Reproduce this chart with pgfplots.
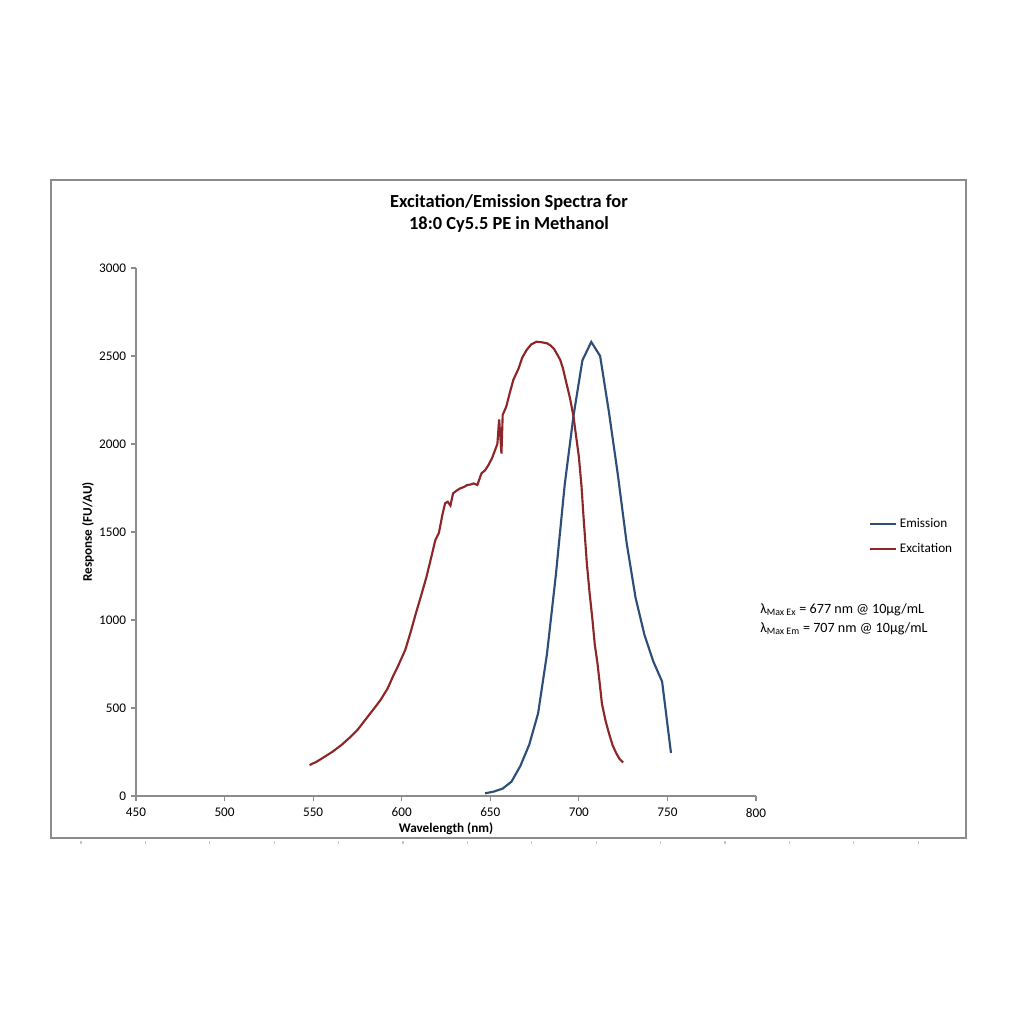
\documentclass[border=0pt]{standalone}
\usepackage{pgfplots}
\pgfplotsset{compat=1.18}
\usepackage{fontspec}
\setmainfont{Carlito}
\definecolor{emblue}{RGB}{44,78,120}
\definecolor{exred}{RGB}{140,38,40}
\definecolor{axgray}{RGB}{140,140,140}
\begin{document}
\begin{tikzpicture}
\path[use as bounding box, fill=white] (0,0) rectangle (768pt,768pt);
\draw[axgray, line width=1.3pt] (38.25pt,139.5pt) rectangle (724.5pt,633pt);
\foreach \i in {0,...,13} {\draw[gray!45, line width=0.8pt] ({(81+64.4*\i)*0.75pt},137.3pt) -- ({(81+64.4*\i)*0.75pt},135.3pt);}
\node[font=\fontsize{13.8}{16.3}\selectfont\bfseries, align=center] at (381.75pt,608pt) {Excitation/Emission Spectra for\\18:0 Cy5.5 PE in Methanol};
\begin{axis}[
  at={(102pt,171pt)}, anchor=south west,
  scale only axis, width=465pt, height=396pt,
  xmin=450, xmax=800, ymin=0, ymax=3000,
  xtick={450,500,...,800}, ytick={0,500,...,3000},
  axis x line=bottom, axis y line=left,
  axis line style={-, axgray, line width=1.1pt},
  tick style={axgray, line width=0.8pt},
  tick align=outside, major tick length=4pt,
  minor tick num=0,
  ticklabel style={font=\fontsize{9.9}{12}\selectfont, text=black},
  xticklabel style={yshift=-1.5pt},
  /pgf/number format/assume math mode=true,
  /pgf/number format/1000 sep={},
  xlabel={Wavelength (nm)}, ylabel={Response (FU/AU)},
  xlabel style={font=\fontsize{9.9}{12}\selectfont\bfseries, yshift=2.5pt},
  every axis y label/.style={at={(rel axis cs:0,0.5)}, xshift=-36pt, rotate=90, anchor=center, font=\fontsize{9.9}{12}\selectfont\bfseries},
  clip=false,
  legend style={draw=none, fill=none, at={(rel axis cs:1.181,0.4915)}, anchor=west, font=\fontsize{9.9}{12}\selectfont, row sep=6.5pt, inner sep=0pt},
  legend cell align=left,
  legend image code/.code={\draw[#1] (0pt,0pt) -- (20pt,0pt);},
]
\addplot[emblue, line width=1.6pt] coordinates {
(647,15) (652,25) (657,42) (662,82) (667,171) (672,292) (677,470) (682,807)
(687,1255) (692,1768) (697,2162) (702,2475) (707,2580) (712,2500) (717,2180)
(722,1826) (727,1436) (732,1127) (737,917) (742,765) (747,650) (752,245)
};
\addlegendentry{Emission}
\addplot[exred, line width=1.6pt] coordinates {
(548,176) (552,195) (556,220) (561,252) (566,290) (571,335) (575,375) (580,440)
(585,505) (588,545) (592,610) (595,678) (598,740) (602,830) (605,930) (608,1038)
(611,1140) (614,1246) (617,1370) (619,1455) (621,1495) (623,1600) (624.5,1663)
(626,1672) (627.5,1650) (629,1720) (631,1735) (633,1748) (635,1755) (637,1767)
(639,1770) (640.5,1776) (642.7,1767) (645,1833) (647,1850) (649,1881) (651,1920)
(652.5,1960) (654,2000) (655,2140) (656.3,1946) (657,2165) (659,2212) (661,2290)
(663,2364) (666,2430) (668,2490) (670.5,2534) (673,2565) (676,2581) (679,2578)
(682,2572) (684,2560) (686,2540) (688,2505) (689.5,2477) (691,2430) (693,2345)
(695,2260) (697,2155) (698.5,2040) (700,1928) (701.5,1760) (702.5,1606)
(704.5,1322) (706,1160) (707.5,1019) (709,860) (710.5,754) (712,620) (713,526)
(715,430) (717,356) (719,290) (721,245) (723,210) (725,190)
};
\addlegendentry{Excitation}
\node[anchor=west, font=\fontsize{10.6}{14.5}\selectfont, align=left, inner sep=0pt] at (rel axis cs:1.0065,0.335) {%
λ\textsubscript{Max Ex} = 677 nm @ 10µg/mL\\
λ\textsubscript{Max Em} = 707 nm @ 10µg/mL};
\end{axis}
\end{tikzpicture}
\end{document}
